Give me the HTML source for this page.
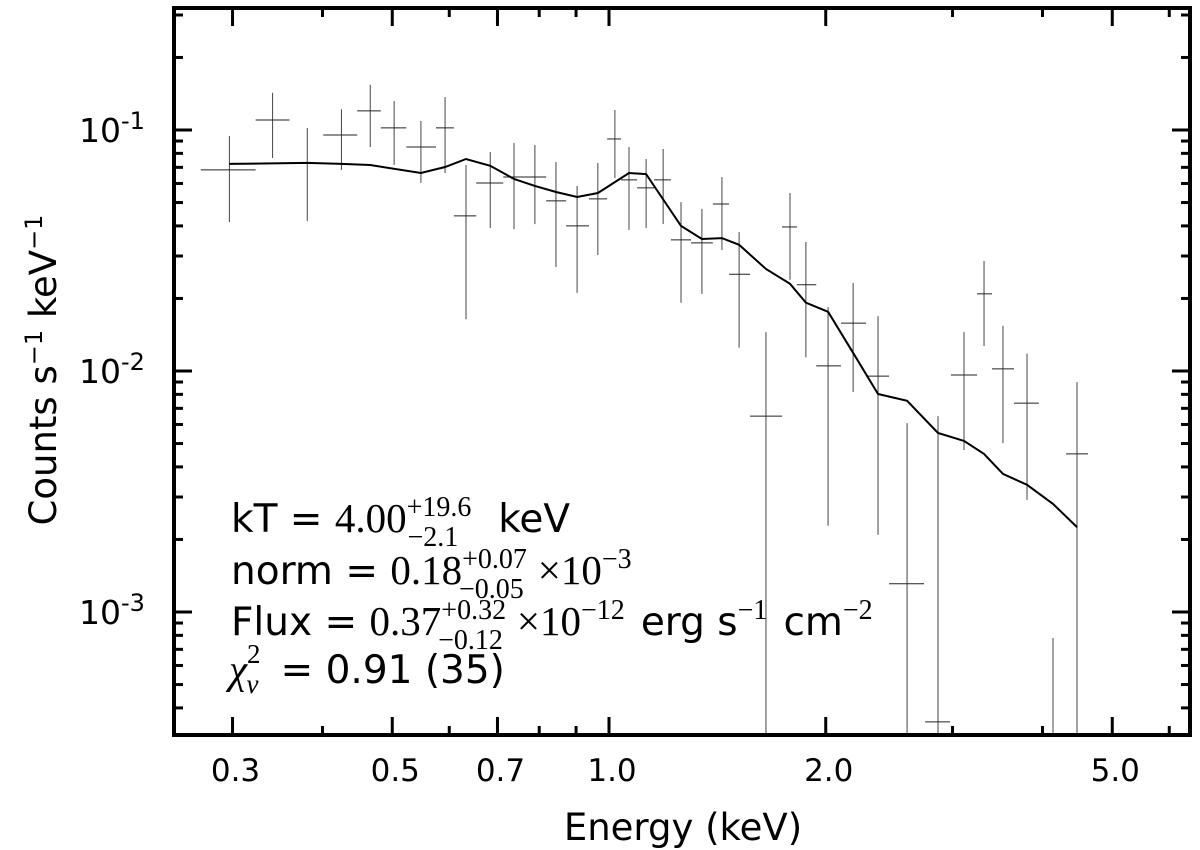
<!DOCTYPE html>
<html><head><meta charset="utf-8"><style>
html,body{margin:0;padding:0;background:#fff;}
svg{display:block;font-family:"DejaVu Sans","Liberation Sans",sans-serif;}
</style></head><body>
<svg id="chart" width="1200" height="850" viewBox="0 0 1200 850" xmlns="http://www.w3.org/2000/svg">
<g id="ticks"></g>
<g id="errbars"></g>
<g id="modelg"></g>
<rect x="174" y="8" width="1016" height="727" fill="none" stroke="#000" stroke-width="4"/>
<g id="labels" font-size="31"></g>
<text x="683" y="840" font-size="37" text-anchor="middle">Energy (keV)</text>
<text transform="translate(56,370) rotate(-90)" font-size="37" text-anchor="middle">Counts s<tspan dy="-14" font-size="24">−1</tspan><tspan dy="14"> keV</tspan><tspan dy="-14" font-size="24">−1</tspan></text>
<g font-size="39">
<text x="231" y="532">kT = <tspan font-family="Liberation Serif,serif" font-size="41">4.00</tspan><tspan font-family="Liberation Serif,serif" font-size="28" dy="-16">+19.6</tspan><tspan font-family="Liberation Serif,serif" font-size="28" dx="-64" dy="30">−2.1</tspan><tspan dx="40" dy="-14">keV</tspan></text>
<text x="231" y="584">norm = <tspan font-family="Liberation Serif,serif" font-size="41">0.18</tspan><tspan font-family="Liberation Serif,serif" font-size="28" dy="-16">+0.07</tspan><tspan font-family="Liberation Serif,serif" font-size="28" dx="-68" dy="30">−0.05</tspan><tspan font-family="Liberation Serif,serif" font-size="41" dx="14" dy="-14">×10</tspan><tspan font-family="Liberation Serif,serif" font-size="28" dy="-16">−3</tspan></text>
<text x="231" y="635">Flux = <tspan font-family="Liberation Serif,serif" font-size="41">0.37</tspan><tspan font-family="Liberation Serif,serif" font-size="28" dy="-16">+0.32</tspan><tspan font-family="Liberation Serif,serif" font-size="28" dx="-68" dy="30">−0.12</tspan><tspan font-family="Liberation Serif,serif" font-size="41" dx="14" dy="-14">×10</tspan><tspan font-family="Liberation Serif,serif" font-size="28" dy="-16">−12</tspan><tspan dx="16" dy="16">erg s</tspan><tspan font-family="Liberation Serif,serif" font-size="28" dy="-16">−1</tspan><tspan dx="16" dy="16">cm</tspan><tspan font-family="Liberation Serif,serif" font-size="28" dy="-16">−2</tspan></text>
<text x="229" y="683"><tspan font-family="Liberation Serif,serif" font-style="italic" font-size="41">χ</tspan><tspan font-family="Liberation Serif,serif" font-size="27" dy="-20">2</tspan><tspan font-family="Liberation Serif,serif" font-style="italic" font-size="27" dx="-14" dy="30">ν</tspan><tspan dx="22" dy="-10">= 0.91 (35)</tspan></text>
</g>
</svg>
<script>
const energy = [0.297,0.341,0.381,0.425,0.466,0.503,0.548,0.592,0.633,0.684,0.738,0.789,0.844,0.903,0.965,1.019,1.066,1.126,1.189,1.259,1.346,1.435,1.516,1.652,1.784,1.877,2.015,2.183,2.364,2.594,2.864,3.112,3.318,3.525,3.807,4.137,4.467];
const eLo = [0.271,0.323,0.360,0.401,0.447,0.482,0.523,0.575,0.609,0.654,0.713,0.762,0.818,0.872,0.938,0.994,1.039,1.094,1.155,1.219,1.300,1.394,1.468,1.570,1.739,1.824,1.940,2.100,2.275,2.449,2.748,2.985,3.245,3.404,3.652,3.96,4.313];
const eHi = [0.323,0.360,0.401,0.447,0.482,0.523,0.575,0.609,0.654,0.713,0.762,0.818,0.872,0.938,0.994,1.039,1.094,1.155,1.219,1.300,1.394,1.468,1.570,1.739,1.824,1.940,2.100,2.275,2.449,2.739,2.976,3.245,3.404,3.652,3.955,4.31,4.627];
const counts = [0.0683,0.110,0.0730,0.0953,0.120,0.102,0.0850,0.102,0.0440,0.0603,0.0638,0.0638,0.0508,0.0400,0.0518,0.0918,0.0621,0.0575,0.0621,0.0350,0.0340,0.0493,0.0252,0.00650,0.0396,0.0228,0.0105,0.0158,0.00952,0.00131,0.00035,0.00962,0.0209,0.0102,0.00736,0.00015,0.00453];
const countsHi = [0.0944,0.1426,0.102,0.122,0.154,0.1318,0.109,0.137,0.0716,0.0811,0.0883,0.0867,0.0736,0.0586,0.0730,0.121,0.0850,0.0758,0.0834,0.0502,0.0470,0.0638,0.0377,0.0145,0.0548,0.0343,0.0184,0.0232,0.0169,0.00608,0.00650,0.0145,0.0286,0.0154,0.0118,0.00078,0.00899];
const countsLo = [0.0415,0.0766,0.0419,0.0683,0.0850,0.0716,0.0603,0.0663,0.0164,0.0392,0.0388,0.0407,0.0270,0.0211,0.0303,0.0632,0.0385,0.0392,0.0407,0.0192,0.0209,0.0318,0.0125,0.0002,0.0239,0.0114,0.00228,0.00818,0.00209,0.0002,0.0002,0.00470,0.0127,0.00502,0.00292,0.0001,0.0002];
const modelE = [0.297,0.381,0.425,0.466,0.548,0.592,0.633,0.684,0.738,0.789,0.844,0.903,0.965,1.066,1.126,1.259,1.346,1.435,1.516,1.652,1.784,1.877,2.015,2.183,2.364,2.594,2.864,3.112,3.318,3.525,3.807,4.137,4.467];
const modelV = [0.0723,0.0730,0.0723,0.0716,0.0663,0.0702,0.0758,0.0710,0.0627,0.0586,0.0553,0.0527,0.0548,0.0663,0.0656,0.0400,0.0353,0.0356,0.0334,0.0265,0.0230,0.0192,0.0176,0.0119,0.00803,0.00752,0.00553,0.00513,0.00453,0.00374,0.00337,0.00281,0.00225];
const xMajor = [0.3,0.5,0.7,1.0,2.0,5.0];
const xMajorLabels = ["0.3","0.5","0.7","1.0","2.0","5.0"];
const xMinor = [0.4,0.6,0.8,0.9,3,4,6];
const yMajor = [-3,-2,-1];

const L=174,R=1190,T=8,B=735;
const xs = e => 609 + 720*Math.log10(e);
const ys = v => 130 - 241*(Math.log10(v)+1);
const cy = y => Math.max(T, Math.min(B, y));
const NS="http://www.w3.org/2000/svg";
function mk(tag, attrs, parent){const el=document.createElementNS(NS,tag);for(const k in attrs)el.setAttribute(k,attrs[k]);parent.appendChild(el);return el;}

const tg=document.getElementById('ticks');
function tick(x1,y1,x2,y2,name){const l=mk('line',{x1:x1,y1:y1,x2:x2,y2:y2,stroke:'#000','stroke-width':3},tg);

}
xMajor.forEach(e=>{const x=xs(e);tick(x,B,x,B-18,'x-major-tick');tick(x,T,x,T+18,'x-major-tick-top');});
xMinor.forEach(e=>{const x=xs(e);tick(x,B,x,B-9,'x-minor-tick');tick(x,T,x,T+9,'x-minor-tick-top');});
for(let d=-4; d<=-1; d++){
  for(let m=1;m<=9;m++){
    const v=m*Math.pow(10,d); const y=ys(v);
    if(y<T+2||y>B-2) continue;
    const len = m===1?18:9;
    tick(L,y,L+len,y,m===1?'y-major-tick':'y-minor-tick');
    tick(R,y,R-len,y,m===1?'y-major-tick-right':'y-minor-tick-right');
  }
}
const lg=document.getElementById('labels');
xMajor.forEach((e,i)=>{const t=mk('text',{x:xs(e)+3,y:781,'text-anchor':'middle'},lg);t.textContent=xMajorLabels[i];

});
yMajor.forEach(d=>{const y=ys(Math.pow(10,d));const t=mk('text',{x:79,y:y+12,'font-size':33},lg);


const a=mk('tspan',{},t);a.textContent='10';const b=mk('tspan',{dy:-13,'font-size':24},t);b.textContent='-'+(-d);});

const eg=document.getElementById('errbars');
energy.forEach((e,i)=>{
  const g=mk('g',{},eg);
  
  
  const x=xs(e), y=ys(counts[i]);
  mk('line',{x1:x,x2:x,y1:cy(ys(countsHi[i])),y2:cy(ys(countsLo[i])),stroke:'#444','stroke-width':1},g);
  if(y>=T && y<=B) mk('line',{x1:xs(eLo[i]),x2:xs(eHi[i]),y1:y,y2:y,stroke:'#222','stroke-width':1},g);
});
const mg=document.getElementById('modelg');
const pts=modelE.map((e,i)=>xs(e).toFixed(1)+','+ys(modelV[i]).toFixed(1)).join(' ');
const pl=mk('polyline',{points:pts,fill:'none',stroke:'#000','stroke-width':2},mg);


</script>
</body></html>
